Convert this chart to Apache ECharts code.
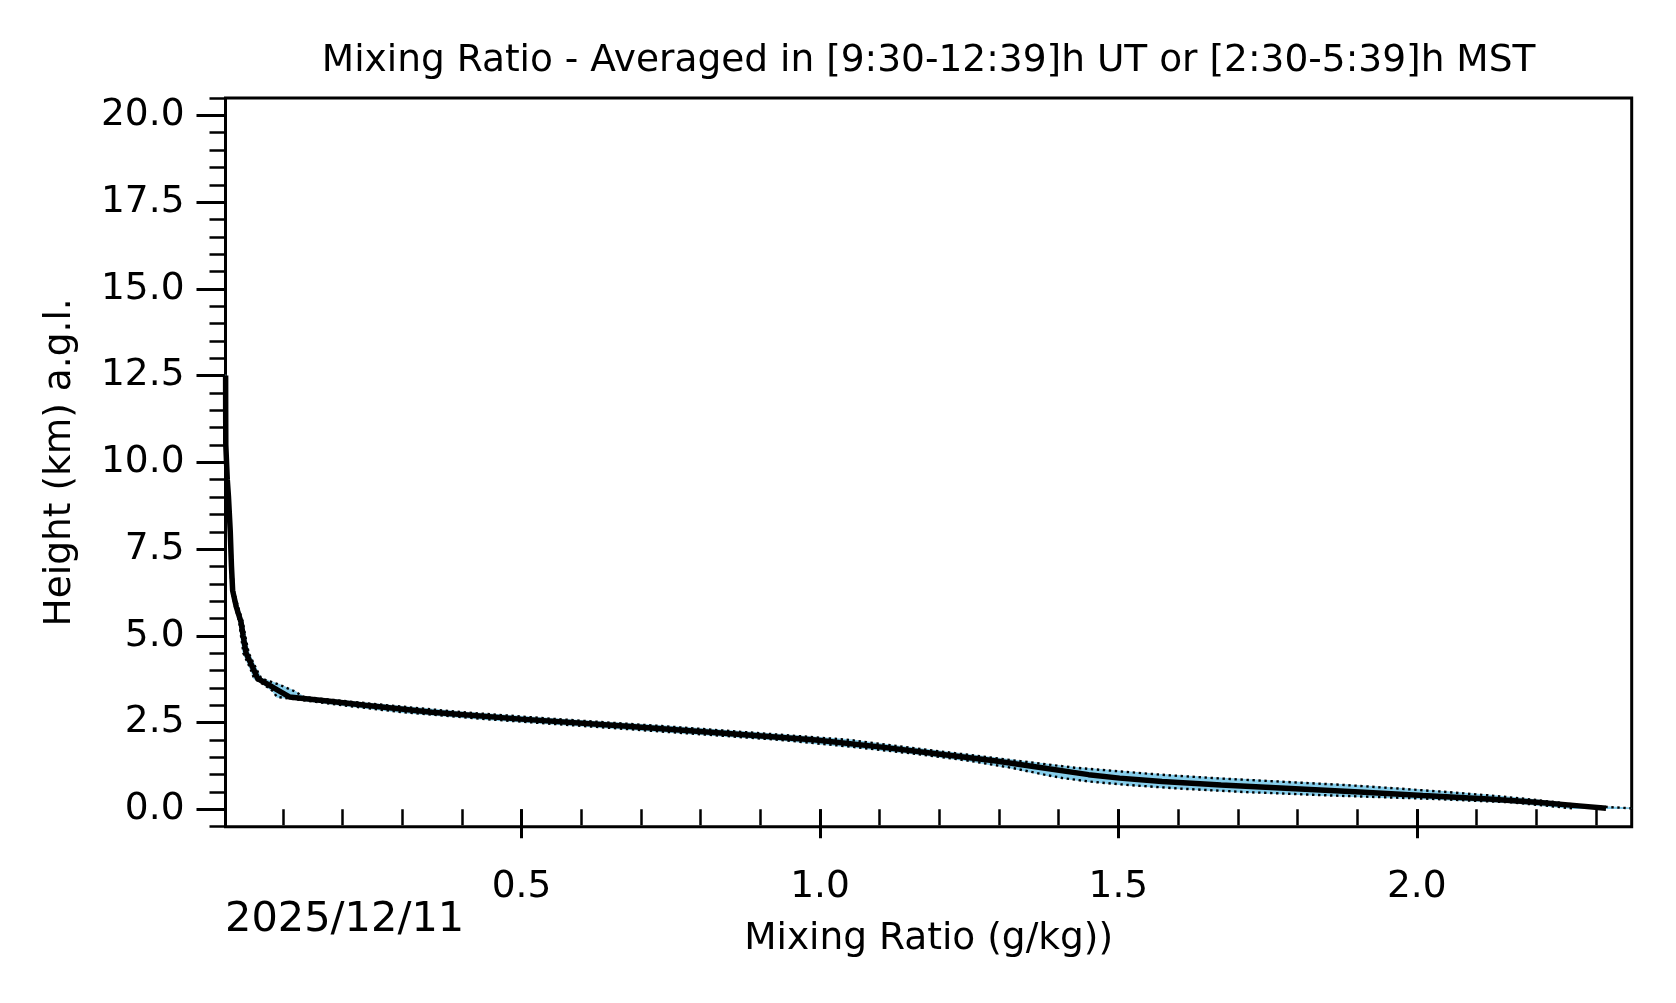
<!DOCTYPE html>
<html>
<head>
<meta charset="utf-8">
<script src="https://cdn.jsdelivr.net/npm/echarts@6/dist/echarts.min.js"></script>
<style>
html,body{margin:0;padding:0;background:#fff;}
#chart{width:1676px;height:1003px;}
</style>
</head>
<body>
<div id="chart"></div>
<script>
// ---- data ----
const heights = [0.03,0.1,0.2,0.3,0.4,0.5,0.6,0.7,0.8,0.9,1.0,1.2,1.4,1.6,1.8,2.0,2.2,2.4,2.6,2.8,3.0,3.1,3.24,3.4,3.6,3.77,4.0,4.5,5.0,5.4,5.84,6.3,7.0,8.0,9.0,9.5,10.5,11.5,12.5];
const meanMR = [2.317,2.272,2.206,2.12,2.01,1.904,1.788,1.672,1.573,1.502,1.45,1.372,1.292,1.195,1.10,0.993,0.834,0.671,0.499,0.35,0.238,0.186,0.111,0.095,0.075,0.058,0.052,0.0385,0.0336,0.030,0.022,0.016,0.014,0.012,0.009,0.007,0.0045,0.0043,0.0042];
const lowMR = [2.26,2.22,2.159,2.03,1.855,1.71,1.601,1.517,1.452,1.407,1.376,1.32,1.25,1.16,1.055,0.935,0.77,0.605,0.44,0.30,0.20,0.155,0.090,0.084,0.068,0.052,0.047,0.034,0.030,0.027,0.020,0.014,0.0125,0.011,0.008,0.0063,0.0042,0.004,0.004];
const highMR = [2.36,2.283,2.236,2.183,2.123,2.05,1.969,1.881,1.77,1.66,1.57,1.427,1.33,1.235,1.14,1.05,0.895,0.735,0.56,0.40,0.275,0.215,0.135,0.12,0.093,0.064,0.057,0.043,0.037,0.033,0.025,0.018,0.0155,0.013,0.010,0.0078,0.005,0.0045,0.0044];
const xMajorTicks = [0.5,1.0,1.5,2.0];
const yMajorTicks = [0,2.5,5,7.5,10,12.5,15,17.5,20];
const titleText = 'Mixing Ratio - Averaged in [9:30-12:39]h UT or [2:30-5:39]h MST';
const xName = 'Mixing Ratio (g/kg))';
const yName = 'Height (km) a.g.l.';
const dateText = '2025/12/11';

const xMinor = [];
for (let i = 1; i <= 23; i++) xMinor.push(i / 10);
const yMinor = [];
for (let i = -1; i <= 41; i++) yMinor.push(i / 2);

const FONT = 'DejaVu Sans';
const XMIN = 0.004, XMAX = 2.36, YMIN = -0.5, YMAX = 20.5;

const chart = echarts.init(document.getElementById('chart'), null, {renderer: 'canvas'});

const zip = (xs) => xs.map((x, i) => [x, heights[i]]);

const option = {
  animation: false,
  backgroundColor: '#ffffff',
  grid: {
    left: 225.5, right: 44.3, top: 98, bottom: 176.3,
    show: true, borderColor: '#000', borderWidth: 3, backgroundColor: 'transparent'
  },
  xAxis: [
    {
      type: 'value', min: XMIN, max: XMAX, position: 'bottom',
      axisLine: {show: false},
      splitLine: {show: false},
      axisTick: {show: true, customValues: xMajorTicks, length: 29, lineStyle: {color: '#000', width: 3}},
      axisLabel: {show: true, customValues: xMajorTicks, formatter: v => v.toFixed(1),
        color: '#000', fontFamily: FONT, fontSize: 37.5, margin: 42},
      name: xName, nameLocation: 'middle', nameGap: 94,
      nameTextStyle: {color: '#000', fontFamily: FONT, fontSize: 37.5}
    },
    {
      type: 'value', min: XMIN, max: XMAX, position: 'bottom',
      axisLine: {show: false}, splitLine: {show: false},
      axisTick: {show: true, customValues: xMinor, length: 16, lineStyle: {color: '#000', width: 2.5}},
      axisLabel: {show: false}
    }
  ],
  yAxis: [
    {
      type: 'value', min: YMIN, max: YMAX, position: 'left',
      axisLine: {show: false}, splitLine: {show: false},
      axisTick: {show: true, customValues: yMajorTicks, length: 29, lineStyle: {color: '#000', width: 3}},
      axisLabel: {show: true, customValues: yMajorTicks, formatter: v => v.toFixed(1),
        color: '#000', fontFamily: FONT, fontSize: 37.5, margin: 41},
      name: yName, nameLocation: 'middle', nameGap: 146, nameRotate: 90,
      nameTextStyle: {color: '#000', fontFamily: FONT, fontSize: 37.5}
    },
    {
      type: 'value', min: YMIN, max: YMAX, position: 'left',
      axisLine: {show: false}, splitLine: {show: false},
      axisTick: {show: true, customValues: yMinor, length: 16, lineStyle: {color: '#000', width: 2.5}},
      axisLabel: {show: false}
    }
  ],
  graphic: [
    {type: 'text', x: 928.6, y: 61,
     style: {text: titleText, font: '37.5px "DejaVu Sans"', fill: '#000', align: 'center', verticalAlign: 'middle'}},
    {type: 'text', x: 225, y: 920,
     style: {text: dateText, font: '41.5px "DejaVu Sans"', fill: '#000', align: 'left', verticalAlign: 'middle'}}
  ],
  series: [
    {
      type: 'custom', xAxisIndex: 0, yAxisIndex: 0, clip: true, z: 1,
      data: heights.map((h, i) => [lowMR[i], highMR[i], h]),
      encode: {x: [0, 1], y: 2},
      renderItem: function (params, api) {
        if (params.dataIndex !== 0) return null;
        const pts = [];
        for (let i = 0; i < heights.length; i++) pts.push(api.coord([highMR[i], heights[i]]));
        for (let i = heights.length - 1; i >= 0; i--) pts.push(api.coord([lowMR[i], heights[i]]));
        return {type: 'polygon', shape: {points: pts}, style: {fill: '#87CEEB', stroke: '#87CEEB', lineWidth: 1.5}};
      }
    },
    {
      type: 'line', xAxisIndex: 0, yAxisIndex: 0, data: zip(lowMR), showSymbol: false, symbol: 'none',
      clip: true, z: 3, lineStyle: {color: '#000', width: 2.4, type: [2.4, 3.6]}
    },
    {
      type: 'line', xAxisIndex: 0, yAxisIndex: 0, data: zip(highMR), showSymbol: false, symbol: 'none',
      clip: true, z: 3, lineStyle: {color: '#000', width: 2.4, type: [2.4, 3.6]}
    },
    {
      type: 'line', xAxisIndex: 0, yAxisIndex: 0, data: zip(meanMR), showSymbol: false, symbol: 'none',
      clip: true, z: 4, lineStyle: {color: '#000', width: 5.5}
    }
  ]
};
chart.setOption(option);
</script>
</body>
</html>
